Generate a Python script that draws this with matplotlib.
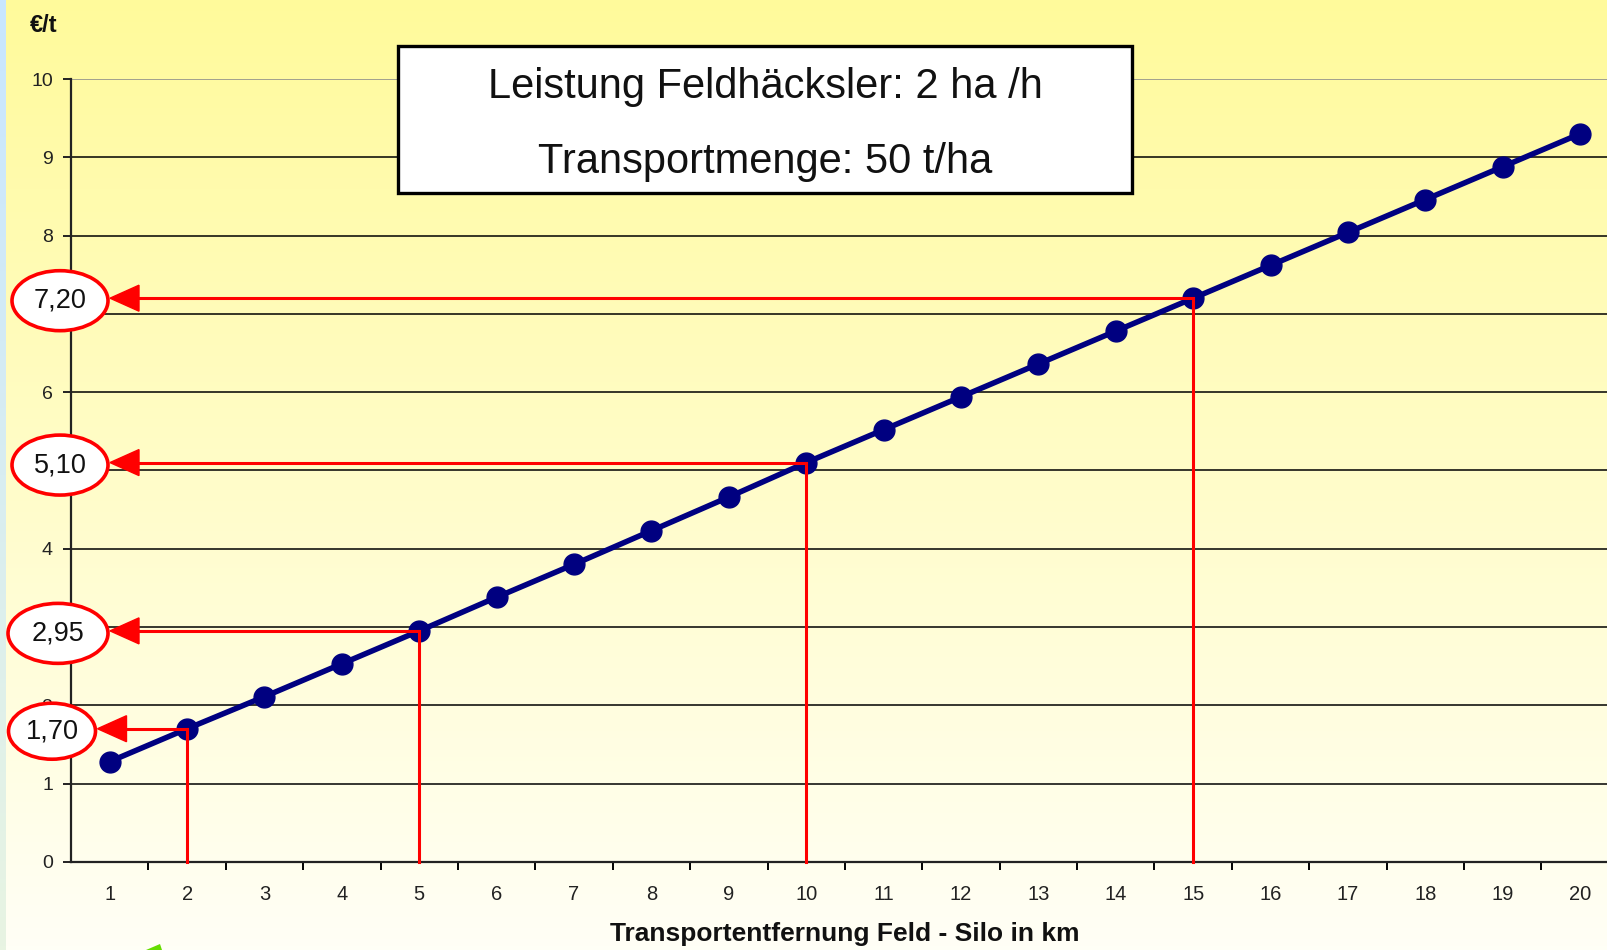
import numpy as np
import matplotlib
matplotlib.use("Agg")
import matplotlib.pyplot as plt
from matplotlib.patches import Ellipse, Polygon, Rectangle

# Transport cost per tonne by field-to-silo distance
distance_km = list(range(1, 21))
cost_eur_t = [1.28, 1.70, 2.11, 2.53, 2.95, 3.38, 3.80, 4.23, 4.66, 5.10,
              5.52, 5.94, 6.36, 6.78, 7.20, 7.62, 8.04, 8.46, 8.88, 9.30]

# Highlighted readings: distance -> cost label
marked_km = [2, 5, 10, 15]
marked_cost = [1.70, 2.95, 5.10, 7.20]
marked_text = ["1,70", "2,95", "5,10", "7,20"]

y_ticks = list(range(0, 11))
y_tick_labels = ["0", "1", "2", "", "4", "", "6", "", "8", "9", "10"]
box_lines = ["Leistung Feldhäcksler: 2 ha /h", "Transportmenge: 50 t/ha"]
x_title = "Transportentfernung Feld - Silo in km"
y_unit = "€/t"

plt.rcParams["font.family"] = ["Liberation Sans", "DejaVu Sans"]

W, H = 1608, 950
fig = plt.figure(figsize=(W / 100, H / 100), dpi=100)

# vertical yellow-to-white background
bg = fig.add_axes([0, 0, 1, 1], zorder=-10)
top = np.array([255, 250, 155]) / 255
bot = np.array([255, 255, 246]) / 255
t = np.linspace(0, 1, 256)[:, None]
grad = top[None, :] * (1 - t) + bot[None, :] * t
bg.imshow(grad[:, None, :], aspect="auto", extent=[0, 1, 0, 1], origin="upper")
# thin bluish strip on the left edge
stop = np.array([200, 230, 255]) / 255
sbot = np.array([232, 244, 226]) / 255
sgrad = stop[None, :] * (1 - t) + sbot[None, :] * t
bg.imshow(sgrad[:, None, :], aspect="auto", extent=[0, 6 / W, 0, 1], origin="upper")
bg.add_patch(Polygon([[146 / W, 0], [160 / W, 6 / H], [162 / W, 0]],
                     closed=True, facecolor="#66dd00", edgecolor="none"))
bg.set_xlim(0, 1)
bg.set_ylim(0, 1)
bg.axis("off")

x0, y0px, y10px = 71, 861.8, 79
ax = fig.add_axes([x0 / W, 1 - y0px / H, (W - x0) / W, (y0px - y10px) / H])
ax.patch.set_alpha(0)
ax.set_xlim(0.5, 20.36)
ax.set_ylim(0, 10)

for v in y_ticks[1:]:
    ax.axhline(v, color="#888888" if v == 10 else "black", lw=1.1, zorder=1)

ax.spines["top"].set_visible(False)
ax.spines["right"].set_visible(False)
for s in ("left", "bottom"):
    ax.spines[s].set_color("#222222")
    ax.spines[s].set_linewidth(1.6)

ax.set_yticks(y_ticks)
ax.set_yticklabels(y_tick_labels)
ax.tick_params(axis="y", direction="out", length=6, width=1.4, pad=7,
               labelsize=14, colors="#222222")
ax.set_xticks(distance_km)
ax.set_xticklabels([str(d) for d in distance_km])
ax.set_xticks(np.arange(1.5, 20.5, 1.0), minor=True)
ax.tick_params(axis="x", which="major", length=0, pad=17, labelsize=14.5, colors="#222222")
ax.tick_params(axis="x", which="minor", direction="out", length=6, width=1.4)

ax.plot(distance_km, cost_eur_t, color="#000080", lw=4, marker="o", ms=15,
        mec="#000080", mfc="#000080", zorder=3, clip_on=False)

px = 77.4   # pixels per category
py = 78.3   # pixels per unit of cost
ell_cx = {"1,70": 52, "2,95": 58, "5,10": 60, "7,20": 60}
ell_w = {"1,70": 87, "2,95": 100, "5,10": 96, "7,20": 96}
ell_h = {"1,70": 56, "2,95": 60, "5,10": 60, "7,20": 60}
ell_dy = 2.5 / py

def to_x(p):
    return (p - x0) / px + 0.5

for km, c, txt in zip(marked_km, marked_cost, marked_text):
    tip = ell_cx[txt] + ell_w[txt] / 2 + 2
    base = tip + 29
    ax.plot([km, km], [0, c], color="red", lw=2.2, zorder=4, clip_on=False)
    ax.plot([to_x(base), km], [c, c], color="red", lw=2.2, zorder=4, clip_on=False)
    ax.add_patch(Polygon([[to_x(tip), c], [to_x(base), c + 13 / py], [to_x(base), c - 13 / py]],
                         closed=True, facecolor="red", edgecolor="red", lw=1,
                         zorder=5, clip_on=False))
    ax.add_patch(Ellipse((to_x(ell_cx[txt]), c - ell_dy), ell_w[txt] / px, ell_h[txt] / py,
                         facecolor="white", edgecolor="red", lw=2.6, zorder=6, clip_on=False))
    ax.text(to_x(ell_cx[txt]), c - ell_dy, txt, ha="center", va="center", fontsize=19.5,
            color="#111111", zorder=7, clip_on=False)

# info box
fig.patches.append(Rectangle((398 / W, 1 - 193 / H), (1132 - 398) / W, (193 - 46) / H,
                             transform=fig.transFigure, facecolor="white",
                             edgecolor="black", lw=2.4, zorder=8))
narrow = ["Liberation Sans Narrow", "Liberation Sans", "DejaVu Sans"]
fig.text(765 / W, 1 - 87 / H, box_lines[0], ha="center", va="center",
         fontsize=30, family=narrow, color="#111111", zorder=9)
fig.text(765 / W, 1 - 162 / H, box_lines[1], ha="center", va="center",
         fontsize=30, family=narrow, color="#111111", zorder=9)

fig.text(845 / W, 1 - 934 / H, x_title, ha="center", va="center",
         fontsize=19, fontweight="bold", color="#111111")
fig.text(44 / W, 1 - 25 / H, y_unit, ha="center", va="center",
         fontsize=17, fontweight="bold", color="#111111")

fig.savefig("out.png", dpi=100)
